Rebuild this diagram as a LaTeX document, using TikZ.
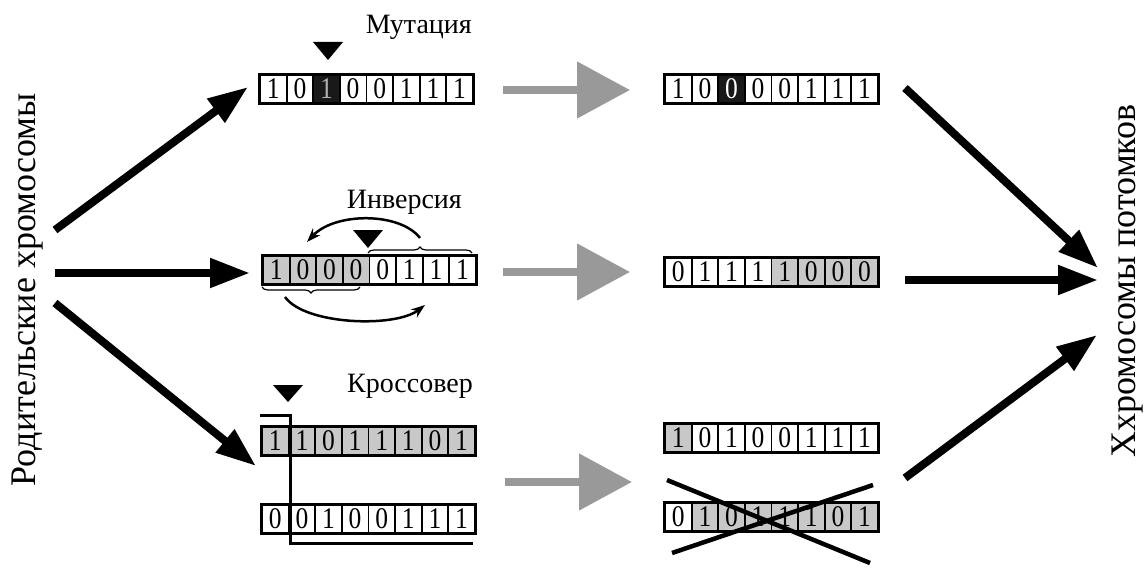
\documentclass[tikz,border=0pt]{standalone}
\usepackage{fontspec}
\usepackage{graphicx}
\setmainfont{Liberation Serif}
\usetikzlibrary{arrows.meta,decorations.pathreplacing}
\definecolor{cellgray}{HTML}{C8C8C8}
\definecolor{arrgray}{HTML}{999999}
\newcommand\chromo[4]{%
  \foreach \dg/\st [count=\ci] in {#4} {\node[cell,\st] (#1\ci) at ({#2+(\ci-0.5)*26.6},#3) {\scalebox{0.85}[1]{\dg}};}
  \draw[line width=2.6pt] (#11.north west) rectangle (#18.south east);}
\tikzset{
  cell/.style={draw, line width=1.8pt, minimum width=26.6pt, minimum height=27pt, inner sep=0pt, font=\fontsize{30pt}{30pt}\selectfont},
  cw/.style={fill=white},
  cg/.style={fill=cellgray},
  cb/.style={fill=black!90, text=white},
  cbm/.style={fill=black!90, text=black!30},
  big/.style={line width=8pt, -{Triangle[length=40pt,width=28pt]}},
  grayarr/.style={draw=arrgray, line width=8pt, -{Triangle[length=53pt,width=55pt]}},
  bendarr/.style={line width=2.5pt, -{Stealth[length=14pt,width=10pt]}},
  lab/.style={font=\fontsize{28pt}{30pt}\selectfont, inner sep=0pt},
  side/.style={font=\fontsize{36pt}{38pt}\selectfont, rotate=90, inner sep=0pt},
  marker/.style={fill=black},
}
\begin{document}
\begin{tikzpicture}[x=1pt,y=-1pt]
\useasboundingbox[fill=white] (0,0) rectangle (1147,567);

% side labels
\node[side] (parents) at (28,290) {Родительские хромосомы};
\node[side] (children) at (1128,281) {Ххромосомы потомков};

% operation labels
\node[lab, anchor=base east] (lmut) at (472,34) {Мутация};
\node[lab, anchor=base east] (linv) at (462,208) {Инверсия};
\node[lab, anchor=base east] (lcro) at (473,392) {Кроссовер};

% chromosomes (left)
\chromo{mut}{260}{89}{1/cw,0/cw,1/cbm,0/cw,0/cw,1/cw,1/cw,1/cw}
\chromo{inv}{263}{270}{1/cg,0/cg,0/cg,0/cg,0/cw,1/cw,1/cw,1/cw}
\chromo{cxa}{262}{441}{1/cg,1/cg,0/cg,1/cg,1/cg,1/cg,0/cg,1/cg}
\chromo{cxb}{262}{519}{0/cw,0/cw,1/cw,0/cw,0/cw,1/cw,1/cw,1/cw}

% chromosomes (right)
\chromo{rmut}{665}{89}{1/cw,0/cw,0/cb,0/cw,0/cw,1/cw,1/cw,1/cw}
\chromo{rinv}{665}{272}{0/cw,1/cw,1/cw,1/cw,1/cg,0/cg,0/cg,0/cg}
\chromo{rcxa}{665}{438}{1/cg,0/cw,1/cw,0/cw,0/cw,1/cw,1/cw,1/cw}
\chromo{rcxb}{665}{517}{0/cw,1/cg,0/cg,1/cg,1/cg,1/cg,0/cg,1/cg}

% position markers
\fill[marker] (313,42) -- (343,42) -- (328,60) -- cycle;
\fill[marker] (353,230) -- (383,230) -- (368,248) -- cycle;
\fill[marker] (273,385) -- (303,385) -- (288,402) -- cycle;

% inversion braces and arrows
\draw[line width=1.2pt, decorate, decoration={brace, amplitude=6pt}] (368,253) -- (472,253);
\draw[line width=1.2pt, decorate, decoration={brace, amplitude=6pt, mirror}] (262,287) -- (360,287);
\coordinate (ia1) at (420,238);
\coordinate (ia2) at (307,242);
\coordinate (ib1) at (285,297);
\coordinate (ib2) at (425,305);
\draw[bendarr] (ia1) .. controls (400,212) and (335,212) .. (ia2);
\draw[bendarr] (ib1) .. controls (305,325) and (395,328) .. (ib2);

% crossover line
\coordinate (cl1) at (260,415);
\coordinate (cl2) at (290,415);
\coordinate (cl3) at (290,543);
\coordinate (cl4) at (473,543);
\draw[line width=3pt] (cl1) -- (cl2) -- (cl3) -- (cl4);

% crossed-out chromosome
\coordinate (xa1) at (667,480);
\coordinate (xa2) at (870,563);
\coordinate (xb1) at (672,553);
\coordinate (xb2) at (873,485);
\draw[line width=4.5pt] (xa1) -- (xa2);
\draw[line width=4.5pt] (xb1) -- (xb2);

% big black arrows (left)
\coordinate (lt1) at (55,230);  \coordinate (lh1) at (248,87);
\coordinate (lt2) at (55,273);  \coordinate (lh2) at (250,273);
\coordinate (lt3) at (55,303);  \coordinate (lh3) at (256,466);
\draw[big] (lt1) -- (lh1);
\draw[big] (lt2) -- (lh2);
\draw[big] (lt3) -- (lh3);

% big black arrows (right)
\coordinate (rt1) at (905,88);  \coordinate (rh1) at (1098,268);
\coordinate (rt2) at (905,280); \coordinate (rh2) at (1098,280);
\coordinate (rt3) at (905,478); \coordinate (rh3) at (1097,335);
\draw[big] (rt1) -- (rh1);
\draw[big] (rt2) -- (rh2);
\draw[big] (rt3) -- (rh3);

% gray arrows
\coordinate (gt1) at (503,90);  \coordinate (gh1) at (630,90);
\coordinate (gt2) at (503,272); \coordinate (gh2) at (630,272);
\coordinate (gt3) at (505,482); \coordinate (gh3) at (632,482);
\draw[grayarr] (gt1) -- (gh1);
\draw[grayarr] (gt2) -- (gh2);
\draw[grayarr] (gt3) -- (gh3);
\end{tikzpicture}
\end{document}
